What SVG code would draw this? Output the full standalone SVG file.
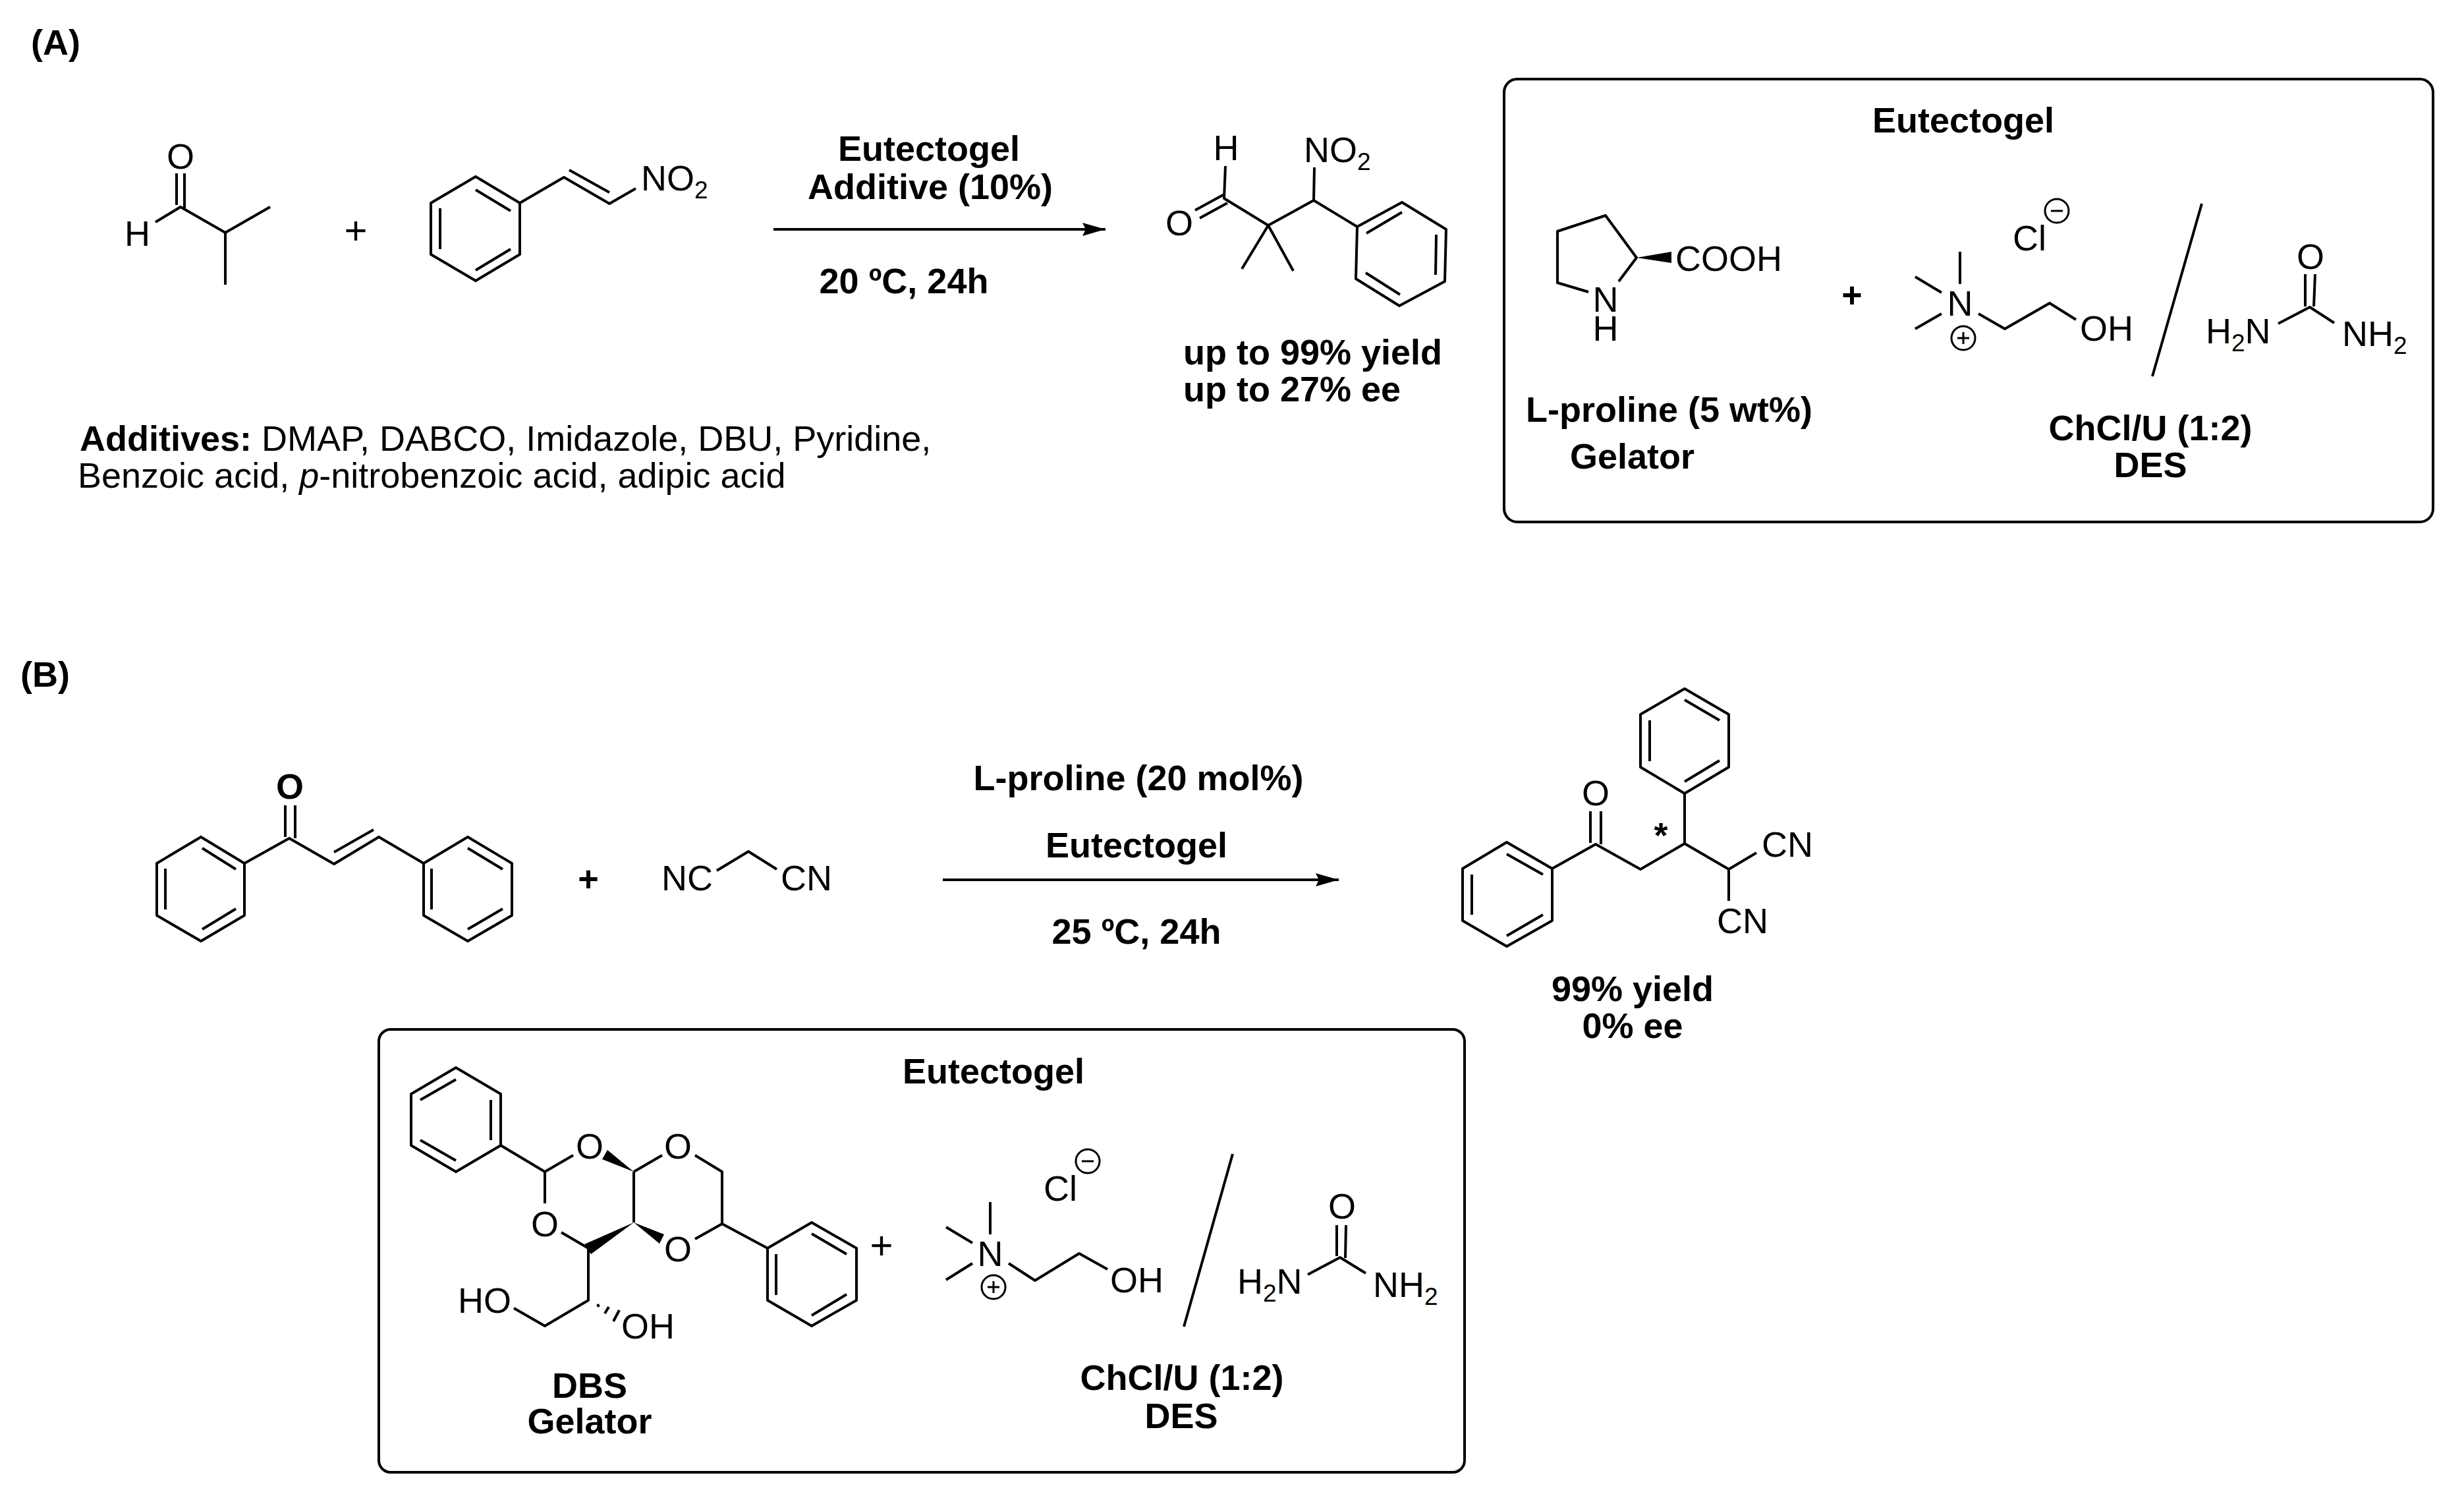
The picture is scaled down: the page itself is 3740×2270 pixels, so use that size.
<svg xmlns="http://www.w3.org/2000/svg" width="3740" height="2270" viewBox="0 0 3740 2270">
<style>
text{font-family:"Liberation Sans",Arial,sans-serif;font-size:54px;fill:#000}
.t{font-weight:bold}
.m{text-anchor:middle}
.s{font-size:37px}
.p{font-size:60px}
.b{fill:none;stroke:#000;stroke-width:4;stroke-linejoin:round;stroke-linecap:butt}
.c{fill:none;stroke:#000;stroke-width:3}
.w{fill:#000}
.box{fill:#fff;stroke:#000;stroke-width:4}
</style>
<defs>
<marker id="ah" markerUnits="userSpaceOnUse" markerWidth="40" markerHeight="26" refX="35" refY="12" orient="auto">
<path d="M0 2L35 12L0 22L5 12Z" fill="#000"/>
</marker>
</defs>
<rect width="3740" height="2270" fill="#fff"/>
<g id="labels">
<text class="t" x="47" y="83">(A)</text>
<text class="t" x="31" y="1042">(B)</text>
</g>
<g id="connectors">
<line class="b" x1="1174" y1="348" x2="1678" y2="348" marker-end="url(#ah)"/>
<line class="b" x1="1431" y1="1335" x2="2032" y2="1335" marker-end="url(#ah)"/>
</g>
<g id="isobutyraldehyde">
<text class="m" x="274" y="256">O</text>
<text x="189" y="373">H</text>
<path class="b" d="M236 337L274 314L342 353L410 314M342 353V432M268 263V311M280 263V316"/>
</g>
<text id="plus-a" class="m p" x="540" y="370">+</text>
<g id="nitrostyrene">
<path class="b" d="M722 268L789 308V386L722 426L654 386V308ZM722 288L775 320M668 316V378M775 378L722 410M789 308L856 269L925 309L965 286M864 258L925 292"/>
<text x="973" y="289">NO<tspan class="s" dy="12">2</tspan></text>
</g>
<g id="reaction-a-conditions">
<text class="t m" x="1410" y="244">Eutectogel</text>
<text class="t m" x="1412" y="302">Additive (10%)</text>
<text class="t m" x="1372" y="445">20 ºC, 24h</text>
</g>
<g id="product-a">
<text class="m" x="1861" y="243">H</text>
<text class="m" x="1790" y="357">O</text>
<text x="1979" y="246">NO<tspan class="s" dy="12">2</tspan></text>
<path class="b" d="M1860 252L1858 301L1925 342L1994 304L2060 344M1994 304L1995 254M1925 342L1885 408M1925 342L1963 411M1814 319L1858 295M1821 331L1863 308M2060 344L2128 307L2195 348L2193 427L2124 464L2058 423ZM2074 354L2128 322M2180 356L2179 417M2073 414L2125 447"/>
<text class="t" x="1796" y="553">up to 99% yield</text>
<text class="t" x="1796" y="609">up to 27% ee</text>
</g>
<g id="additives">
<text x="121" y="684"><tspan class="t">Additives:</tspan> DMAP, DABCO, Imidazole, DBU, Pyridine,</text>
<text x="118" y="740">Benzoic acid, <tspan font-style="italic">p</tspan>-nitrobenzoic acid, adipic acid</text>
</g>
<g id="eutectogel-a">
<rect class="box" x="2283" y="120" width="1410" height="672" rx="20" ry="20"/>
<text class="t m" x="2980" y="201">Eutectogel</text>
<path class="b" d="M2457 427L2484 391L2437 327L2364 351V429L2411 443"/>
<path class="w" d="M2484 391L2537 382V399Z"/>
<text class="m" x="2437" y="473">N</text>
<text class="m" x="2437" y="517">H</text>
<text x="2543" y="411">COOH</text>
<text class="t m" x="2811" y="466">+</text>
<text x="3055" y="380">Cl</text>
<circle class="c" cx="3122" cy="320" r="18"/><path class="c" d="M3113 320H3131"/>
<text class="m" x="2975" y="479">N</text>
<circle class="c" cx="2980" cy="513" r="18"/><path class="c" d="M2971 513H2989M2980 504V522"/>
<path class="b" d="M2975 382V431M2907 420L2947 444M2907 499L2947 476M3003 476L3043 499L3111 460L3151 485"/>
<text x="3157" y="517">OH</text>
<path class="b" d="M3342 309L3267 571"/>
<text class="m" x="3507" y="408">O</text>
<path class="b" d="M3499 416V465M3514 416L3512 465M3458 491L3506 466L3543 490"/>
<text x="3348" y="521">H<tspan class="s" dy="12">2</tspan><tspan dy="-12">N</tspan></text>
<text x="3555" y="525">NH<tspan class="s" dy="12">2</tspan></text>
<text class="t" x="2316" y="640">L-proline (5 wt%)</text>
<text class="t" x="2383" y="711">Gelator</text>
<text class="t m" x="3264" y="668">ChCl/U (1:2)</text>
<text class="t m" x="3264" y="724">DES</text>
</g>
<g id="chalcone">
<text class="m t" x="440" y="1212">O</text>
<path class="b" d="M305 1270L371 1310V1389L305 1428L238 1389V1310ZM307 1287L358 1319M251 1318V1380M307 1410L358 1379M371 1310L439 1272L507 1311L575 1270L643 1310M433 1222V1270M448 1222V1272M507 1293L567 1259M643 1310L710 1270L777 1310V1389L710 1428L643 1389ZM710 1287L763 1319M655 1318V1380M710 1410L763 1379"/>
</g>
<text id="plus-b" class="t m" x="893" y="1352">+</text>
<g id="malononitrile">
<text x="1004" y="1351">NC</text>
<text x="1185" y="1351">CN</text>
<path class="b" d="M1088 1321L1136 1292L1179 1319"/>
</g>
<g id="reaction-b-conditions">
<text class="t m" x="1728" y="1199">L-proline (20 mol%)</text>
<text class="t m" x="1725" y="1301">Eutectogel</text>
<text class="t m" x="1725" y="1432">25 ºC, 24h</text>
</g>
<g id="product-b">
<text class="m" x="2422" y="1222">O</text>
<text class="m t" x="2521" y="1286">*</text>
<text x="2674" y="1300">CN</text>
<text x="2606" y="1416">CN</text>
<path class="b" d="M2287 1278L2356 1318V1397L2287 1436L2220 1397V1318ZM2287 1296L2342 1327M2234 1327V1388M2287 1420L2342 1388M2356 1318L2422 1281L2490 1319L2557 1280L2624 1319L2666 1294M2624 1319V1367M2414 1231V1279M2430 1231V1281M2557 1280V1204M2557 1204L2624 1164V1084L2557 1045L2490 1084V1164ZM2557 1186L2610 1154M2504 1093V1155M2557 1062L2610 1093"/>
<text class="t m" x="2478" y="1519">99% yield</text>
<text class="t m" x="2478" y="1575">0% ee</text>
</g>
<g id="eutectogel-b">
<rect class="box" x="575" y="1562" width="1648" height="672" rx="18" ry="18"/>
<text class="t m" x="1508" y="1644">Eutectogel</text>
<path class="b" d="M692 1620L760 1660V1738L692 1778L624 1738V1660ZM638 1669L692 1638M745 1669V1730M638 1730L692 1761M760 1738L827 1778L870 1753M827 1778V1826M852 1870L893 1894V1973L827 2012L780 1985M962 1778V1855M962 1778L1005 1753M1055 1753L1096 1778V1857L1055 1880M1096 1857L1165 1894L1232 1855L1300 1894V1973L1232 2012L1165 1973V1894ZM1232 1872L1285 1903M1178 1903V1965M1232 1996L1285 1964M907 1979L909 1983M918 1993L924 1983M931 2005L940 1988"/>
<path class="w" d="M962 1778L922 1745L914 1759ZM962 1855L1008 1873L1001 1887ZM962 1855L887 1888L897 1903Z"/>
<text class="m" x="895" y="1758">O</text>
<text class="m" x="827" y="1876">O</text>
<text class="m" x="1029" y="1758">O</text>
<text class="m" x="1029" y="1914">O</text>
<text x="695" y="1992">HO</text>
<text x="943" y="2031">OH</text>
<text class="t m" x="895" y="2121">DBS</text>
<text class="t m" x="895" y="2175">Gelator</text>
<text class="m p" x="1338" y="1910">+</text>
<text x="1584" y="1822">Cl</text>
<circle class="c" cx="1651" cy="1762" r="18"/><path class="c" d="M1642 1762H1660"/>
<text class="m" x="1503" y="1921">N</text>
<circle class="c" cx="1508" cy="1953" r="18"/><path class="c" d="M1499 1953H1517M1508 1944V1962"/>
<path class="b" d="M1503 1824V1873M1436 1862L1476 1886M1436 1942L1476 1917M1531 1917L1571 1943L1638 1902L1681 1926"/>
<text x="1685" y="1961">OH</text>
<path class="b" d="M1871 1751L1797 2013"/>
<text class="m" x="2037" y="1849">O</text>
<path class="b" d="M2029 1859V1906M2043 1859L2042 1909M1985 1934L2034 1908L2073 1932"/>
<text x="1878" y="1963">H<tspan class="s" dy="12">2</tspan><tspan dy="-12">N</tspan></text>
<text x="2084" y="1968">NH<tspan class="s" dy="12">2</tspan></text>
<text class="t m" x="1794" y="2109">ChCl/U (1:2)</text>
<text class="t m" x="1793" y="2167">DES</text>
</g>
</svg>
